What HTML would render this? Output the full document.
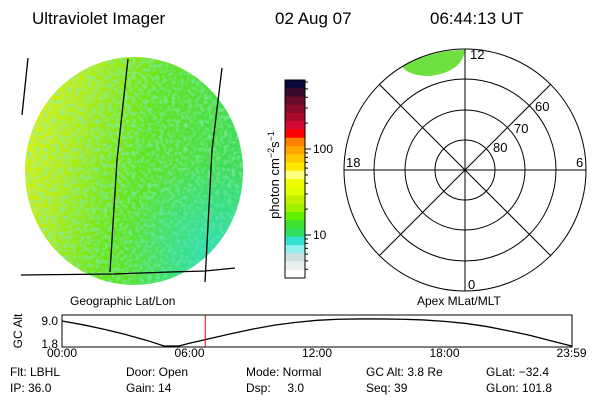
<!DOCTYPE html>
<html><head><meta charset="utf-8"><style>
html,body{margin:0;padding:0;background:#fff;}
svg{display:block;font-family:"Liberation Sans",sans-serif;}
</style></head><body>
<svg width="600" height="400" viewBox="0 0 600 400">
<defs>
<linearGradient id="dg" x1="0" y1="0" x2="1" y2="0.3">
<stop offset="0" stop-color="#e8f400"/>
<stop offset="0.3" stop-color="#b4ec10"/>
<stop offset="0.6" stop-color="#66e41a"/>
<stop offset="1" stop-color="#3edc5a"/>
</linearGradient>
<filter id="nz" x="0" y="0" width="1" height="1">
<feTurbulence type="fractalNoise" baseFrequency="0.25" numOctaves="2" seed="3" result="t"/>
<feColorMatrix in="t" type="matrix" values="0 0 0 0 0.2  0 0 0 0 0.85  0 0 0 0 0.3  0 0 0 -2.2 1.25" result="c"/>
<feComposite in="c" in2="SourceGraphic" operator="in" result="m"/>
<feMerge><feMergeNode in="SourceGraphic"/><feMergeNode in="m"/></feMerge>
</filter>
<radialGradient id="cy" cx="0.85" cy="0.85" r="0.4">
<stop offset="0" stop-color="#30e0d0" stop-opacity="0.7"/>
<stop offset="1" stop-color="#30e0d0" stop-opacity="0"/>
</radialGradient>
<clipPath id="dc"><rect x="0" y="40" width="260" height="245"/></clipPath>
</defs>
<g font-size="17" fill="#000">
<text x="32" y="24">Ultraviolet Imager</text>
<text x="275" y="24">02 Aug 07</text>
<text x="430" y="24">06:44:13 UT</text>
</g>
<g clip-path="url(#dc)">
<ellipse cx="134" cy="171" rx="109" ry="114" fill="url(#dg)" filter="url(#nz)"/>
<ellipse cx="134" cy="171" rx="109" ry="114" fill="url(#cy)"/>
<g stroke="#000" stroke-width="1.3" fill="none">
<polyline points="128,59 117,160 110,272"/>
<polyline points="222,68 212,150 205,282"/>
<line x1="28" y1="58" x2="22" y2="115"/>
<polyline points="21,275 114,274 170,272 205,271 235,268"/>
</g>
</g>
<g id="cbar"></g>
<text transform="translate(279,175) rotate(-90)" text-anchor="middle" font-size="13">photon cm<tspan dy="-5" font-size="9">−2</tspan><tspan dy="5">s</tspan><tspan dy="-5" font-size="9">−1</tspan></text>
<g stroke="#000" fill="none" stroke-width="1">
<path d="M402,67 Q430,50 465,50 Q462,72 430,76 Q410,76 402,67Z" fill="#6ee040" stroke="none"/>
<circle cx="465" cy="170" r="30"/>
<circle cx="465" cy="170" r="60"/>
<circle cx="465" cy="170" r="91"/>
<circle cx="465" cy="170" r="121"/>
<line x1="344" y1="170" x2="586" y2="170"/>
<line x1="465" y1="49" x2="465" y2="291"/>
<line x1="379" y1="84" x2="551" y2="256"/>
<line x1="551" y1="84" x2="379" y2="256"/>
</g>
<g font-size="13" fill="#000">
<text x="470" y="59">12</text>
<text x="346" y="167">18</text>
<text x="576" y="167">6</text>
<text x="468" y="289">0</text>
<text x="493" y="152">80</text>
<text x="514" y="133">70</text>
<text x="535" y="111">60</text>
</g>
<g font-size="12" fill="#000">
<text x="70" y="305">Geographic Lat/Lon</text>
<text x="417" y="305">Apex MLat/MLT</text>
<text transform="translate(22,331) rotate(-90)" text-anchor="middle">GC Alt</text>
<text x="58" y="325" text-anchor="end">9.0</text>
<text x="58" y="348" text-anchor="end">1.8</text>
</g>
<g id="alt"></g>
<g font-size="12" fill="#000">
<text x="10" y="376">Flt: LBHL</text><text x="10" y="392">IP: 36.0</text>
<text x="126" y="376">Door: Open</text><text x="126" y="392">Gain: 14</text>
<text x="246" y="376">Mode: Normal</text><text x="246" y="392">Dsp:&#160;&#160;&#160;&#160;&#160;3.0</text>
<text x="366" y="376">GC Alt: 3.8 Re</text><text x="366" y="392">Seq: 39</text>
<text x="486" y="376">GLat: −32.4</text><text x="486" y="392">GLon: 101.8</text>
</g>
</svg>
<script>
const NS="http://www.w3.org/2000/svg";
const cbColors=["#0a0a3a","#3a0a2a","#6a0a2a","#8a0a2a","#aa0a2a","#d00a30","#ff0000","#ff8000","#ffa500","#ffc800","#ffe800","#ffff80","#f0ff00","#e0ff00","#c0f000","#a0f000","#60f000","#40e030","#30e060","#30e0d0","#90f0f0","#d0e0e0","#e8f0f0","#ffffff"];
const cbTicks=[10,100];
const cbTickLabels=["10","100"];
const altHours=[0,1,2,3,4,4.8,5.5,6,7,8,9,10,11,12,13,14,15,16,17,18,19,20,21,22,23,23.98];
const altValues=[9.0,7.9,6.6,5.1,3.4,1.8,1.8,2.6,4.0,5.4,6.7,7.8,8.6,9.2,9.5,9.6,9.6,9.5,9.3,8.9,8.3,7.4,6.2,4.9,3.3,1.8];
const currentHour=6.74;
const cb=document.getElementById('cbar');
const cbx=285,cbw=20,cbTop=80,cbBot=278;
const bh=(cbBot-cbTop)/cbColors.length;
cbColors.forEach((c,i)=>{const r=document.createElementNS(NS,'rect');
r.setAttribute('x',cbx);r.setAttribute('y',cbTop+i*bh);r.setAttribute('width',cbw);r.setAttribute('height',bh+0.5);r.setAttribute('fill',c);


cb.appendChild(r);});
const fr=document.createElementNS(NS,'rect');fr.setAttribute('x',cbx);fr.setAttribute('y',cbTop);fr.setAttribute('width',cbw);fr.setAttribute('height',cbBot-cbTop);fr.setAttribute('fill','none');fr.setAttribute('stroke','#000');


cb.appendChild(fr);
const cy=v=>235-(Math.log10(v)-1)*86;
for(let d=1;d<=1000;d*=10)for(let m=1;m<10;m++){const v=d*m;const y=cy(v);if(y<cbTop||y>cbBot)continue;
const l=document.createElementNS(NS,'line');l.setAttribute('x1',cbx+cbw);l.setAttribute('x2',cbx+cbw+(m==1?6:3));l.setAttribute('y1',y);l.setAttribute('y2',y);l.setAttribute('stroke','#000');


cb.appendChild(l);}
cbTicks.forEach((v,i)=>{const t=document.createElementNS(NS,'text');t.setAttribute('x',cbx+cbw+8);t.setAttribute('y',cy(v)+4);t.setAttribute('font-size','12');t.textContent=cbTickLabels[i];


cb.appendChild(t);});
const ag=document.getElementById('alt');
const X0=62,X1=572,Y0=315,Y1=347;
const xs=h=>X0+h/24*(X1-X0);
const ys=v=>Math.max(Y0,Math.min(Y1,346-(v-1.8)/7.2*25));
const box=document.createElementNS(NS,'rect');box.setAttribute('x',X0);box.setAttribute('y',Y0);box.setAttribute('width',X1-X0);box.setAttribute('height',Y1-Y0);box.setAttribute('fill','none');box.setAttribute('stroke','#000');


ag.appendChild(box);
const pl=document.createElementNS(NS,'polyline');pl.setAttribute('points',altHours.map((h,i)=>xs(h)+','+ys(altValues[i])).join(' '));pl.setAttribute('fill','none');pl.setAttribute('stroke','#000');pl.setAttribute('stroke-width','1.3');


ag.appendChild(pl);
const rl=document.createElementNS(NS,'line');rl.setAttribute('x1',xs(currentHour));rl.setAttribute('x2',xs(currentHour));rl.setAttribute('y1',Y0);rl.setAttribute('y2',Y1);rl.setAttribute('stroke','#e00000');


ag.appendChild(rl);
const xTicks=[0,6,12,18,23.98];const xLabels=["00:00","06:00","12:00","18:00","23:59"];
xTicks.forEach((h,i)=>{const t=document.createElementNS(NS,'text');t.setAttribute('x',xs(h));t.setAttribute('y',357);t.setAttribute('text-anchor','middle');t.setAttribute('font-size','12');t.textContent=xLabels[i];


ag.appendChild(t);});
</script>
</body></html>
